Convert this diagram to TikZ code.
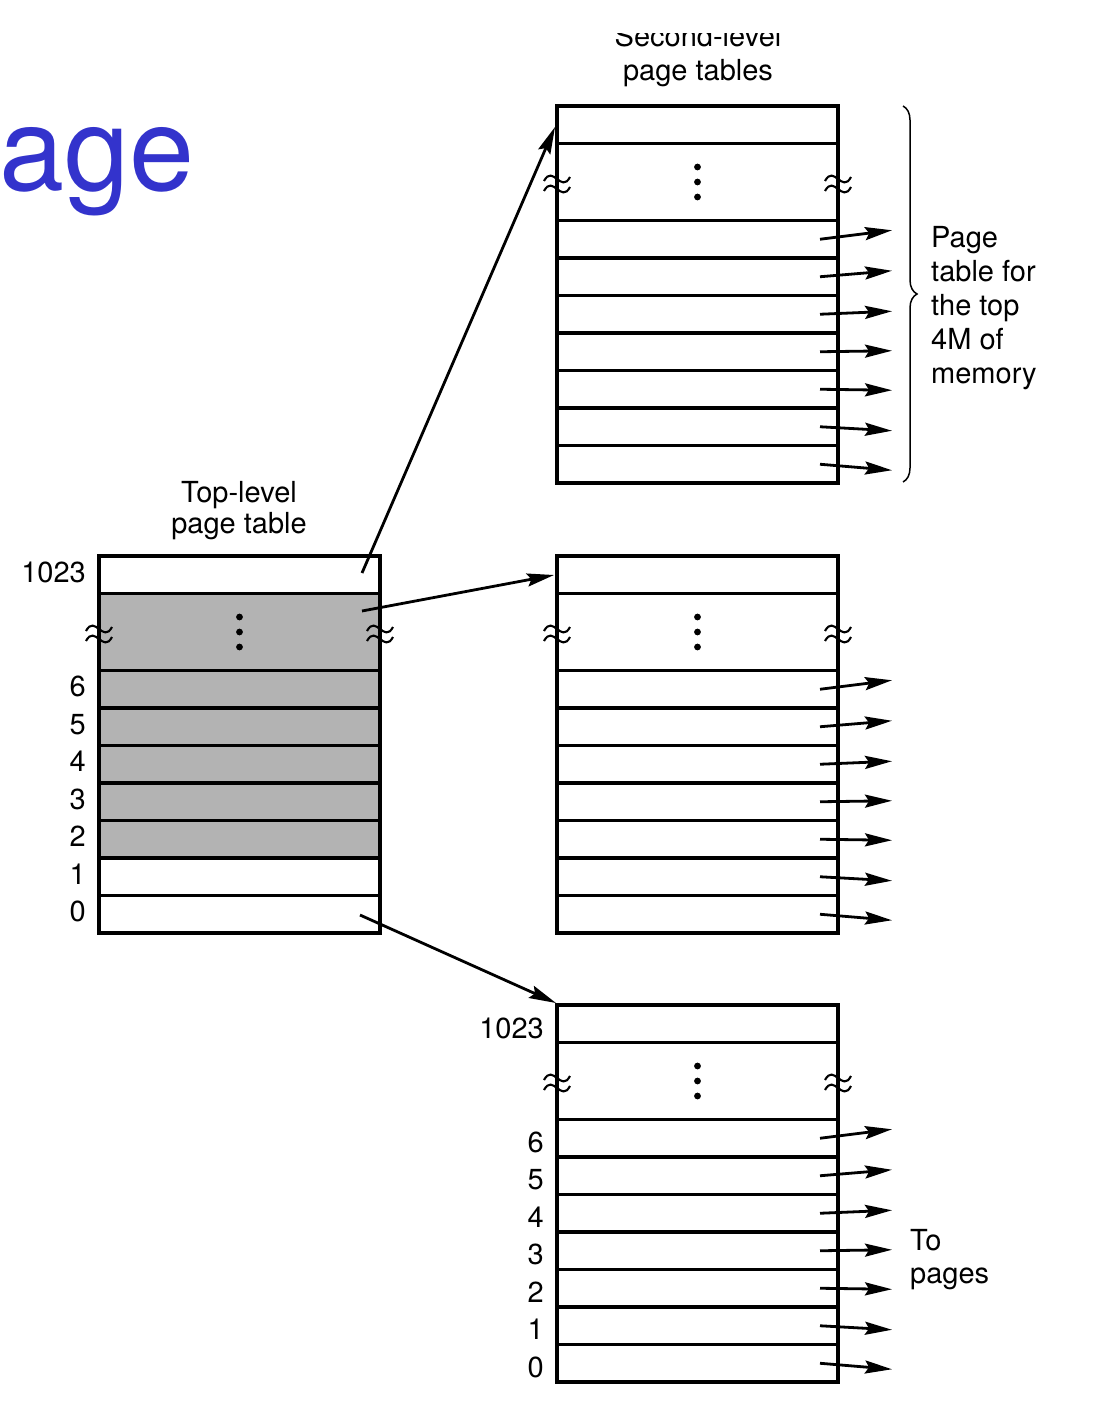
\documentclass[tikz,border=0pt]{standalone}
\usepackage{fontspec}
\setmainfont{TeX Gyre Heros}
\usetikzlibrary{arrows.meta,decorations.pathreplacing}
\definecolor{titleblue}{RGB}{51,51,204}
\definecolor{cellgray}{RGB}{179,179,179}
\tikzset{
  tbl/.style={line width=3.2pt},
  wave/.style={line width=2.1pt},
  conn/.style={line width=2.8pt,-{Stealth[length=27pt,width=13pt,inset=4pt]}},
  lbl/.style={font=\fontsize{29}{34}\selectfont, inner sep=0pt},
  rowlbl/.style={lbl, anchor=base east},
}
\newcommand\pgtable[4]{%
 \begin{scope}[shift={(#2,#3)}]
   #4
   \draw[tbl] (0,0) rectangle (281,377);
   \foreach \y in {37.5,114.5,152,189.5,227,264.5,302,339.5} \draw[tbl] (0,\y) -- (281,\y);
   \foreach \d [count=\i] in {-15,0,15} \fill (140.5,76+\d) circle (3.4);
   \foreach \x in {0,281} {
     \draw[wave] (\x-13,75) .. controls (\x-4,58) and (\x+4,88) .. (\x+13,71);
     \draw[wave] (\x-13,85) .. controls (\x-4,68) and (\x+4,98) .. (\x+13,81);
   }
   \coordinate (#1-top) at (0,0);
 \end{scope}}
\newcommand\rowarrows[3]{% name, L, T
 \begin{scope}[shift={(#2,#3)}]
   \foreach \k/\o in {0/-9,1/-6,2/-3,3/-1,4/1,5/4,6/6} {
     \coordinate (#1-s\k) at (263,133.25+37.5*\k);
     \coordinate (#1-e\k) at (335,133.25+37.5*\k+\o);
     \draw[conn] (#1-s\k) -- (#1-e\k);
   }
 \end{scope}}
\newcommand\rowlabels[3]{% name, L, T (T includes a small vertical offset)
 \begin{scope}[shift={(#2,#3)}]
   \node[rowlbl] (#1-l1023) at (-13,26.5) {1023};
   \foreach \k/\t in {0/6,1/5,2/4,3/3,4/2,5/1,6/0}
     \node[rowlbl] (#1-l\t) at (-13,140.5+37.5*\k) {\t};
 \end{scope}}
\begin{document}
\begin{tikzpicture}[x=1pt,y=-1pt]
\useasboundingbox (0,0) rectangle (1114,1426);
\fill[white] (0,0) rectangle (1114,1426);

% slide title fragment
\node[inner sep=0pt, anchor=base west, text=titleblue, font=\fontsize{117}{120}\selectfont] (ttl) at (-1,190) {age};

% titles (base anchor = last line)
\node[lbl, anchor=base, align=center] (sltitle) at (698,81) {Second-level\\page tables};
\fill[white] (540,0) rectangle (860,33);
\node[inner sep=0pt, anchor=base, font=\fontsize{29}{31}\selectfont, align=center] (tltitle) at (239,533) {Top-level\\page table};

% top-level table
\pgtable{tl}{99}{556}{\fill[cellgray] (0,37.5) rectangle (281,302);}
\rowlabels{tl}{99}{556}

% second-level tables
\pgtable{sa}{557}{106}{}
\rowarrows{sa}{557}{106}
\pgtable{sb}{557}{556}{}
\rowarrows{sb}{557}{556}
\pgtable{sc}{557}{1005}{}
\rowarrows{sc}{557}{1005}
\rowlabels{sc}{557}{1011.5}

% connectors between tables
\coordinate (c1s) at (362,573);
\coordinate (c1e) at (555,127);
\coordinate (c2s) at (362,611);
\coordinate (c2e) at (554,575);
\coordinate (c3s) at (360,915);
\coordinate (c3e) at (556,1003);
\draw[conn] (c1s) -- (c1e);
\draw[conn] (c2s) -- (c2e);
\draw[conn] (c3s) -- (c3e);

% brace
\coordinate (bt) at (903,106);
\coordinate (bb) at (903,482);
\draw[line width=1.5pt, decorate, decoration={brace, amplitude=14pt}] (bt) -- (bb);

\node[lbl, anchor=base west, align=left] (memlbl) at (931,383) {Page\\table for\\the top\\4M of\\memory};
\node[lbl, anchor=base west, align=left, font=\fontsize{29}{33}\selectfont] (pglbl) at (910,1283) {To\\pages};
\end{tikzpicture}
\end{document}
